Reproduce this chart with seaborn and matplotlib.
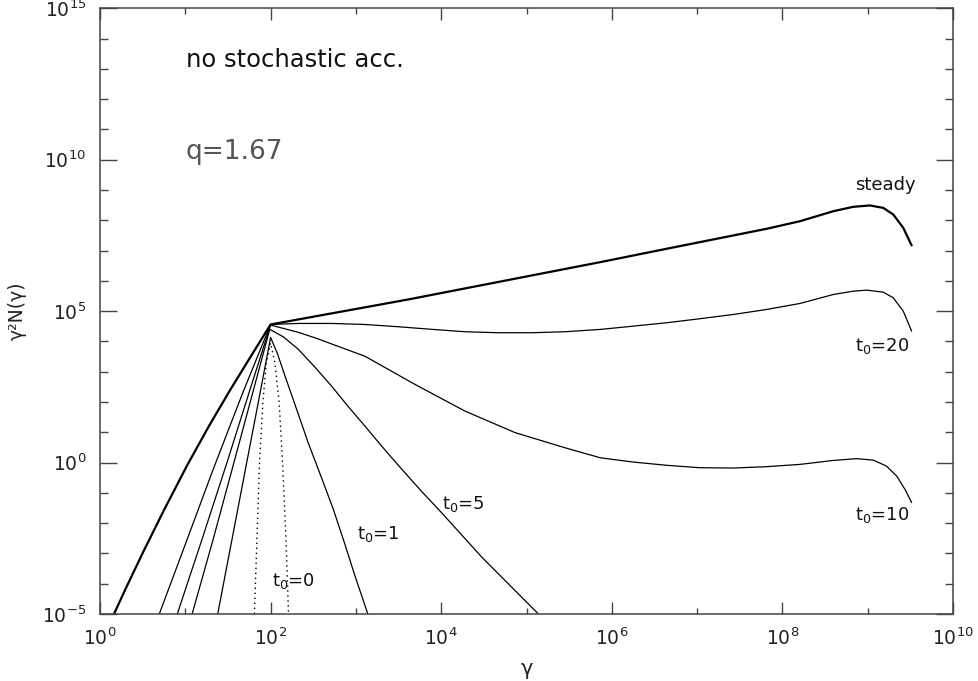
import numpy as np
import pandas as pd
import matplotlib
matplotlib.use("Agg")
import matplotlib.pyplot as plt
import matplotlib.ticker as mticker
import seaborn as sns

# ---- data: log10(gamma), log10(gamma^2 N(gamma)) ----
steady_lx = [0.164, 0.30, 0.51, 0.75, 1.02, 1.27, 1.52, 1.76, 2.0, 3.614, 5.862, 6.252,
             6.643, 7.034, 7.425, 7.816, 8.206, 8.597, 8.831, 9.027, 9.183, 9.30, 9.417, 9.515]
steady_ly = [-5.0, -4.17, -2.93, -1.57, -0.1, 1.17, 2.37, 3.47, 4.56, 5.386, 6.617, 6.838,
             7.06, 7.28, 7.50, 7.72, 7.97, 8.30, 8.445, 8.49, 8.41, 8.19, 7.75, 7.17]

t20_lx = [0.695, 1.0, 1.33, 1.68, 2.0, 2.325, 2.716, 3.107, 3.497, 3.888, 4.279, 4.67, 5.06,
          5.45, 5.862, 6.252, 6.643, 7.034, 7.425, 7.816, 8.206, 8.597, 8.831, 8.988,
          9.183, 9.30, 9.417, 9.515]
t20_ly = [-5.0, -2.7, -0.2, 2.35, 4.56, 4.594, 4.594, 4.56, 4.485, 4.40, 4.32, 4.287, 4.287,
          4.32, 4.396, 4.505, 4.617, 4.75, 4.89, 5.056, 5.254, 5.55, 5.66, 5.693,
          5.627, 5.44, 5.0, 4.34]

t10_lx = [0.906, 1.2, 1.5, 1.78, 2.0, 2.325, 2.52, 3.107, 3.693, 4.279, 4.865, 5.45, 5.862,
          6.252, 6.643, 7.034, 7.425, 7.816, 8.206, 8.597, 8.87, 9.066, 9.22, 9.34, 9.437, 9.515]
t10_ly = [-5.0, -2.5, 0.1, 2.6, 4.54, 4.30, 4.12, 3.51, 2.58, 1.70, 0.99, 0.49, 0.16,
          0.017, -0.09, -0.17, -0.18, -0.135, -0.06, 0.07, 0.13, 0.08, -0.115, -0.445, -0.885, -1.32]

t5_lx = [1.08, 1.33, 1.57, 1.79, 1.99, 2.15, 2.325, 2.52, 2.716, 2.91, 3.107, 3.30, 3.50,
         3.77, 4.006, 4.475, 5.14]
t5_ly = [-5.0, -2.5, 0.0, 2.3, 4.40, 4.15, 3.74, 3.15, 2.52, 1.85, 1.20, 0.55, -0.10,
         -0.95, -1.66, -3.12, -5.0]

t1_lx = [1.38, 1.55, 1.72, 1.87, 2.0, 2.08, 2.17, 2.30, 2.44, 2.59, 2.735, 2.86, 2.99, 3.14]
t1_ly = [-5.0, -2.5, 0.0, 2.2, 4.13, 3.6, 2.85, 1.8, 0.66, -0.45, -1.54, -2.6, -3.75, -5.0]

t0_lx = [1.81, 1.84, 1.87, 1.91, 1.95, 2.0, 2.05, 2.1, 2.14, 2.18, 2.21]
t0_ly = [-5.0, -2.5, 0.0, 2.0, 3.3, 3.95, 3.3, 2.0, 0.0, -2.5, -5.0]

x_major = [1e0, 1e2, 1e4, 1e6, 1e8, 1e10]
x_minor = [1e1, 1e3, 1e5, 1e7, 1e9]
y_major = [1e-5, 1e0, 1e5, 1e10, 1e15]
y_minor = [10.0 ** k for k in range(-5, 16)]

curve_labels = ["steady", "t$_0$=20", "t$_0$=10", "t$_0$=5", "t$_0$=1", "t$_0$=0"]
# label anchor positions (log10 gamma, log10 y)
label_lx = [8.85, 8.85, 8.85, 4.01, 3.01, 2.02]
label_ly = [9.18, 3.84, -1.74, -1.38, -2.37, -3.92]

# ---- plotting ----
sns.set_theme(style="ticks")
plt.rcParams["font.family"] = ["DejaVu Sans"]
plt.rcParams["mathtext.fontset"] = "dejavusans"

fig = plt.figure(figsize=(9.79, 6.81), dpi=100)
ax = fig.add_axes([100 / 979, 1 - 614 / 681, 853 / 979, (614 - 8.3) / 681])

curves = [
    (steady_lx, steady_ly, 1.6, "-"),
    (t20_lx, t20_ly, 0.9, "-"),
    (t10_lx, t10_ly, 0.9, "-"),
    (t5_lx, t5_ly, 0.9, "-"),
    (t1_lx, t1_ly, 0.9, "-"),
    (t0_lx, t0_ly, 1.0, (0, (1, 2.6))),
]
for lx, ly, lw, ls in curves:
    df = pd.DataFrame({"g": 10.0 ** np.array(lx), "n": 10.0 ** np.array(ly)})
    sns.lineplot(data=df, x="g", y="n", sort=False, estimator=None,
                 color="black", linewidth=lw, linestyle=ls, ax=ax)

ax.set_xscale("log")
ax.set_yscale("log")
ax.set_xlim(1, 1e10)
ax.set_ylim(1e-5, 1e15)

ax.xaxis.set_major_locator(mticker.FixedLocator(x_major))
ax.xaxis.set_minor_locator(mticker.FixedLocator(x_minor))
ax.yaxis.set_major_locator(mticker.FixedLocator(y_major))
ax.yaxis.set_minor_locator(mticker.FixedLocator(y_minor))
ax.xaxis.set_major_formatter(mticker.LogFormatterSciNotation())
ax.yaxis.set_major_formatter(mticker.LogFormatterSciNotation())
ax.xaxis.set_minor_formatter(mticker.NullFormatter())
ax.yaxis.set_minor_formatter(mticker.NullFormatter())

fc = "#444444"
ax.tick_params(which="both", direction="in", top=True, right=True, color=fc,
               width=1.0, labelsize=13.5, labelcolor="#222222")
ax.xaxis.set_tick_params(which="major", length=8.6, pad=10)
ax.xaxis.set_tick_params(which="minor", length=4.3)
ax.yaxis.set_tick_params(which="major", length=12.2, pad=10)
ax.yaxis.set_tick_params(which="minor", length=6.1)
for s in ax.spines.values():
    s.set_color(fc)
    s.set_linewidth(1.1)

ax.set_xlabel("γ", fontsize=15, color="#222222")
ax.set_ylabel("γ²N(γ)", fontsize=13.5, color="#222222")
ax.xaxis.set_label_coords(0.5, -0.075)
ax.yaxis.set_label_coords(-0.086, 0.5)

for txt, lx, ly in zip(curve_labels, label_lx, label_ly):
    ax.text(10.0 ** lx, 10.0 ** ly, txt, fontsize=13, ha="left", va="center",
            color="#111111")

ax.text(0.101, 0.915, "no stochastic acc.", transform=ax.transAxes,
        fontsize=17.5, ha="left", va="center", color="#111111")
ax.text(0.100, 0.763, "q=1.67", transform=ax.transAxes,
        fontsize=19, ha="left", va="center", color="#555555")

fig.savefig("out.png", dpi=100, facecolor="white")
